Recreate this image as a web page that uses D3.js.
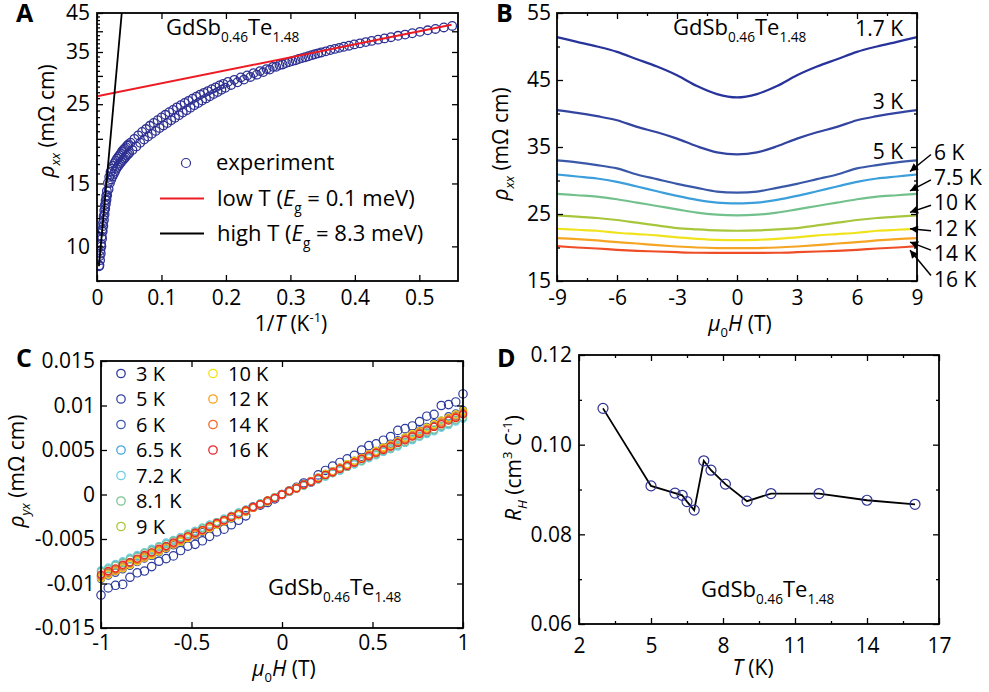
<!DOCTYPE html>
<html>
<head>
<meta charset="utf-8">
<script src="https://cdn.jsdelivr.net/npm/d3@7"></script>
<style>
body{margin:0;background:#fff;}
text{font-family:"Open Sans",sans-serif;fill:#000;}
.tick text{font-size:21px;font-family:"Open Sans",sans-serif;}
</style>
</head>
<body>
<script>
// ---------------- data ----------------
// panel A : rho_xx vs 1/T (log y), points read along the measured band
var invT = [0.0033,0.0038,0.0043,0.0048,0.0053,0.0058,0.0063,0.0068,0.0073,0.0078,0.0083,0.0088,0.0093,0.0098,0.0103,0.0108,0.0113,0.0118,0.0123,0.0128,0.0133,0.0138,0.0143,0.0148,0.0153,0.0158,
  0.017,0.018,0.019,0.020,0.021,0.022,0.023,0.024,0.025,0.026,0.027,0.028,0.029,0.030,0.031,0.032,0.033,0.034,0.035,0.036,0.037,0.038,0.039,0.040,0.041,0.042,0.043,0.044,0.045,0.046,0.047,0.048,0.049,0.050,
  0.052,0.055,0.058,0.061,0.064,0.067,0.070,0.073,0.076,0.079,0.082,0.085,0.088,0.091,0.094,0.097,0.100,0.103,0.106,0.109,0.112,0.115,0.118,0.121,0.124,0.127,0.130,0.133,0.136,0.139,0.142,0.145,0.148,0.151,0.154,0.157,0.160,0.163,0.166,0.169,0.172,0.175,0.178,0.181,0.184,0.187,0.190,0.193,0.196,0.199,
  0.203,0.208,0.213,0.218,0.223,0.228,0.233,0.238,0.243,0.248,0.253,0.258,0.263,0.268,0.273,0.278,0.283,0.288,0.293,0.298,0.303,0.308,0.313,0.318,0.323,0.328,0.333,0.338,0.343,0.348,
  0.355,0.362,0.369,0.376,0.383,0.391,0.399,0.408,0.417,0.426,0.436,0.446,0.456,0.467,0.478,0.489,0.501,0.513,0.525,0.538,0.551];
var rhoA = [8.8,8.85,9.4,9.15,9.75,9.55,10.15,10.0,10.65,10.5,11.15,11.0,11.65,11.4,12.15,11.85,12.6,12.3,13.05,12.75,13.45,13.15,13.85,13.5,14.3,13.9,
  15.05,14.45,15.65,15.05,16.15,15.4,16.5,15.7,16.8,15.95,17.1,16.2,17.35,16.5,17.6,16.7,17.8,16.9,18.0,17.1,18.2,17.25,18.45,17.45,18.65,17.6,18.8,17.75,18.95,17.95,19.15,18.1,19.3,18.25,
  19.5,18.6,20.0,19.05,20.45,19.5,20.9,19.9,21.3,20.3,21.75,20.65,22.15,21.05,22.55,21.45,22.95,21.8,23.35,22.15,23.75,22.55,24.1,22.9,24.5,23.3,24.85,23.7,25.2,24.05,25.55,24.45,25.9,24.85,26.25,25.2,26.6,25.6,26.9,25.95,27.2,26.3,27.55,26.7,27.85,27.05,28.2,27.45,28.5,27.8,
  28.85,28.3,29.25,28.8,29.7,29.3,30.1,29.8,30.55,30.25,30.95,30.75,31.35,31.25,31.8,31.8,32.2,32.3,32.6,32.8,33.0,33.2,33.45,33.65,33.85,34.05,34.3,34.5,34.7,34.9,
  35.15,35.45,35.7,35.95,36.2,36.45,36.75,37.0,37.3,37.6,37.9,38.2,38.5,38.85,39.15,39.5,39.85,40.25,40.6,41.0,41.4];
var lowFitX = [0, 0.55], lowFitY = [26.3, 41.7];
var highFitX = [0.003, 0.0384], highFitY = [8.8, 45];
var aXTicks = [0, 0.1, 0.2, 0.3, 0.4, 0.5];
var aYLabelTicks = [10, 15, 25, 35, 45];
var aYMajor = [10, 15, 20, 25, 30, 35, 40, 45];
var aYRight = [10, 15, 20, 25, 30, 35, 40];
var aYMinor = [8,9,11,12,13,14,16,17,18,19,21,22,23,24,26,27,28,29,31,32,33,34,36,37,38,39,41,42,43,44];

// panel B : rho_xx vs field
var fieldB = [-9,-8,-7,-6,-5,-4,-3,-2,-1,0,1,2,3,4,5,6,7,8,9];
var tempsB = ["1.7 K","3 K","5 K","6 K","7.5 K","10 K","12 K","14 K","16 K"];
var colorsB = ["#27329a","#3244a0","#3a58a8","#3c9fdb","#72c18d","#a8c63c","#f0e31c","#f6a423","#ee4d27"];
var rhoB17 = [51.4,50.7,50.0,49.2,48.1,47.0,45.7,44.1,42.9,42.4,42.9,44.1,45.7,47.0,48.1,49.2,50.0,50.7,51.4];
var rhoB3  = [40.5,40.1,39.6,39.0,38.0,37.2,36.25,35.1,34.2,33.9,34.2,35.1,36.25,37.2,38.0,39.0,39.6,40.1,40.5];
var rhoB5  = [33.0,32.7,32.3,31.8,30.9,30.2,29.5,28.9,28.35,28.2,28.35,28.9,29.5,30.2,30.9,31.8,32.3,32.7,33.0];
var rhoB6  = [30.9,30.6,30.3,29.8,29.1,28.4,27.7,27.1,26.7,26.6,26.7,27.1,27.7,28.4,29.1,29.8,30.3,30.6,30.9];
var rhoB75 = [28.0,27.8,27.6,27.2,26.7,26.2,25.7,25.2,24.9,24.8,24.9,25.2,25.7,26.2,26.7,27.2,27.6,27.8,28.0];
var rhoB10 = [24.8,24.6,24.4,24.1,23.7,23.3,22.9,22.7,22.55,22.5,22.55,22.7,22.9,23.3,23.7,24.1,24.4,24.6,24.8];
var rhoB12 = [22.8,22.65,22.5,22.2,22.0,21.8,21.5,21.3,21.15,21.1,21.15,21.3,21.5,21.8,22.0,22.2,22.5,22.65,22.8];
var rhoB14 = [21.4,21.25,21.05,20.8,20.6,20.35,20.15,20.0,19.92,19.9,19.92,20.0,20.15,20.35,20.6,20.8,21.05,21.25,21.4];
var rhoB16 = [20.2,20.0,19.85,19.65,19.5,19.4,19.3,19.22,19.2,19.2,19.2,19.22,19.3,19.4,19.5,19.65,19.85,20.0,20.2];
var seriesB = [rhoB17, rhoB3, rhoB5, rhoB6, rhoB75, rhoB10, rhoB12, rhoB14, rhoB16];
var bXTicks = [-9, -6, -3, 0, 3, 6, 9];
var bXMinor = [-7.5, -4.5, -1.5, 1.5, 4.5, 7.5];
var bYTicks = [15, 25, 35, 45, 55];
var bYMinor = [20, 30, 40, 50];

// panel C : rho_yx (units of 1e-3 mOhm cm) vs field
var fieldC = [-1,-0.96,-0.92,-0.88,-0.84,-0.8,-0.76,-0.72,-0.68,-0.64,-0.6,-0.56,-0.52,-0.48,-0.44,-0.4,-0.36,-0.32,-0.28,-0.24,-0.2,-0.16,-0.12,-0.08,-0.04,0,
  0.04,0.08,0.12,0.16,0.2,0.24,0.28,0.32,0.36,0.4,0.44,0.48,0.52,0.56,0.6,0.64,0.68,0.72,0.76,0.8,0.84,0.88,0.92,0.96,1];
var tempsC = ["3 K","5 K","6 K","6.5 K","7.2 K","8.1 K","9 K","10 K","12 K","14 K","16 K"];
var colorsC = ["#2b3a9c","#3447a3","#3d5dad","#47a6dc","#72cfe0","#7cc48f","#a9c63a","#f2e317","#f6a21f","#f1692c","#e8262b"];
var ryx3  = [-11.3,-10.5,-10.2,-10.1,-9.3,-8.8,-8.6,-8.1,-7.5,-7.2,-6.9,-6.3,-5.8,-5.6,-5.2,-4.7,-4.2,-3.9,-3.4,-2.9,-2.4,-1.4,-1.2,-0.9,-0.5,0.0,
  0.4,0.8,1.3,1.4,2.2,2.7,3.2,3.6,4.0,4.4,5.0,5.5,5.7,6.1,6.5,7.2,7.4,7.7,8.2,8.8,9.0,10.0,10.1,10.4,11.3];
var ryx5  = [-9.5,-9.1,-8.8,-8.4,-8.0,-7.6,-7.2,-6.9,-6.5,-6.1,-5.7,-5.3,-4.9,-4.6,-4.2,-3.8,-3.4,-3.0,-2.7,-2.3,-1.9,-1.5,-1.1,-0.8,-0.4,0.0,
  0.4,0.7,1.2,1.5,1.9,2.3,2.6,3.0,3.4,3.8,4.2,4.5,4.9,5.3,5.7,6.1,6.4,6.9,7.2,7.6,8.0,8.3,8.8,9.1,9.5];
var ryx6  = [-9.2,-8.8,-8.5,-8.1,-7.7,-7.4,-7.0,-6.6,-6.3,-5.9,-5.5,-5.2,-4.8,-4.4,-4.0,-3.7,-3.3,-2.9,-2.6,-2.2,-1.8,-1.5,-1.1,-0.7,-0.4,0.0,
  0.4,0.7,1.1,1.5,1.8,2.2,2.6,2.9,3.3,3.7,4.1,4.4,4.8,5.2,5.5,5.9,6.3,6.6,7.0,7.4,7.7,8.1,8.5,8.8,9.2];
var ryx65 = [-8.6,-8.3,-7.9,-7.6,-7.2,-6.9,-6.5,-6.2,-5.8,-5.5,-5.2,-4.8,-4.5,-4.1,-3.8,-3.4,-3.1,-2.8,-2.4,-2.1,-1.7,-1.4,-1.0,-0.7,-0.3,0.0,
  0.3,0.7,1.0,1.4,1.7,2.1,2.4,2.7,3.1,3.4,3.8,4.1,4.5,4.8,5.1,5.5,5.8,6.2,6.5,6.9,7.2,7.6,7.9,8.3,8.6];
var ryx72 = [-8.5,-8.2,-7.8,-7.5,-7.1,-6.8,-6.5,-6.1,-5.8,-5.4,-5.1,-4.8,-4.4,-4.1,-3.7,-3.4,-3.1,-2.7,-2.4,-2.0,-1.7,-1.4,-1.0,-0.7,-0.3,0.0,
  0.3,0.7,1.0,1.4,1.7,2.0,2.4,2.7,3.1,3.4,3.7,4.1,4.4,4.8,5.1,5.4,5.8,6.1,6.5,6.8,7.1,7.5,7.8,8.2,8.5];
var ryx81 = [-8.7,-8.4,-8.0,-7.7,-7.3,-7.0,-6.6,-6.3,-5.9,-5.6,-5.2,-4.9,-4.5,-4.2,-3.8,-3.5,-3.1,-2.8,-2.4,-2.1,-1.7,-1.4,-1.0,-0.7,-0.3,0.0,
  0.3,0.7,1.0,1.4,1.7,2.1,2.4,2.8,3.1,3.5,3.8,4.2,4.5,4.9,5.2,5.6,5.9,6.3,6.6,7.0,7.3,7.7,8.0,8.4,8.7];
var ryx9  = [-9.1,-8.7,-8.4,-8.0,-7.6,-7.3,-6.9,-6.6,-6.2,-5.8,-5.5,-5.1,-4.7,-4.4,-4.0,-3.6,-3.3,-2.9,-2.5,-2.2,-1.8,-1.5,-1.1,-0.7,-0.4,0.0,
  0.4,0.7,1.1,1.5,1.8,2.2,2.5,2.9,3.3,3.6,4.0,4.4,4.7,5.1,5.5,5.8,6.2,6.6,6.9,7.3,7.6,8.0,8.4,8.7,9.1];
var ryx10 = [-9.4,-9.0,-8.6,-8.3,-7.9,-7.5,-7.1,-6.8,-6.4,-6.0,-5.6,-5.3,-4.9,-4.5,-4.1,-3.8,-3.4,-3.0,-2.6,-2.3,-1.9,-1.5,-1.1,-0.8,-0.4,0.0,
  0.4,0.8,1.1,1.5,1.9,2.3,2.6,3.0,3.4,3.8,4.1,4.5,4.9,5.3,5.6,6.0,6.4,6.8,7.1,7.5,7.9,8.3,8.6,9.0,9.4];
var ryx12 = [-9.3,-8.9,-8.6,-8.2,-7.8,-7.4,-7.1,-6.7,-6.3,-6.0,-5.6,-5.2,-4.8,-4.5,-4.1,-3.7,-3.3,-3.0,-2.6,-2.2,-1.9,-1.5,-1.1,-0.7,-0.4,0.0,
  0.4,0.7,1.1,1.5,1.9,2.2,2.6,3.0,3.3,3.7,4.1,4.5,4.8,5.2,5.6,6.0,6.3,6.7,7.1,7.4,7.8,8.2,8.6,8.9,9.3];
var ryx14 = [-9.1,-8.7,-8.4,-8.0,-7.6,-7.3,-6.9,-6.5,-6.2,-5.8,-5.5,-5.1,-4.7,-4.4,-4.0,-3.6,-3.3,-2.9,-2.5,-2.2,-1.8,-1.5,-1.1,-0.7,-0.4,0.0,
  0.4,0.7,1.1,1.5,1.8,2.2,2.5,2.9,3.3,3.6,4.0,4.4,4.7,5.1,5.4,5.8,6.2,6.6,6.9,7.3,7.6,8.0,8.4,8.7,9.1];
var ryx16 = [-9.0,-8.6,-8.3,-7.9,-7.6,-7.2,-6.8,-6.5,-6.1,-5.8,-5.4,-5.0,-4.7,-4.3,-4.0,-3.6,-3.2,-2.9,-2.5,-2.2,-1.8,-1.4,-1.1,-0.7,-0.4,0.0,
  0.4,0.7,1.1,1.4,1.8,2.2,2.5,2.9,3.2,3.6,4.0,4.3,4.7,5.0,5.4,5.8,6.1,6.5,6.8,7.2,7.6,7.9,8.3,8.6,9.0];
var seriesC = [ryx3, ryx5, ryx6, ryx65, ryx72, ryx81, ryx9, ryx10, ryx12, ryx14, ryx16];
var cXTicks = [-1, -0.5, 0, 0.5, 1];
var cYTicks = [-15, -10, -5, 0, 5, 10, 15];
var cYLabels = ["-0.015", "-0.01", "-0.005", "0", "0.005", "0.01", "0.015"];

// panel D : Hall coefficient vs T
var tempD = [3, 5, 6, 6.3, 6.5, 6.8, 7.2, 7.5, 8.1, 9, 10, 12, 14, 16];
var rH = [0.1081, 0.0908, 0.0892, 0.0887, 0.0873, 0.0854, 0.0964, 0.0943, 0.0912, 0.0874, 0.0891, 0.0891, 0.0876, 0.0867];
var dXTicks = [2, 5, 8, 11, 14, 17];
var dXMinor = [3.5, 6.5, 9.5, 12.5, 15.5];
var dYTicks = [0.06, 0.08, 0.10, 0.12];
var dYMinor = [0.07, 0.09, 0.11];

// ---------------- drawing ----------------
var svg = d3.select("body").append("svg").attr("width", 989).attr("height", 692);

var defs = svg.append("defs");
defs.append("marker").attr("id", "arr").attr("viewBox", "0 0 10 10")
    .attr("refX", 10).attr("refY", 5).attr("markerWidth", 10).attr("markerHeight", 8)
    .attr("markerUnits", "userSpaceOnUse").attr("orient", "auto")
    .append("path").attr("d", "M0,0L10,5L0,10z").attr("fill", "#000");

// text with italic / sub / sup parts
function rich(t, parts, size) {
    var shift = 0;
    parts.forEach(function (p) {
        var k = p[1] || "";
        var s = t.append("tspan").text(p[0]);
        var target = 0;
        if (k.indexOf("sub") >= 0) target = size * 0.3;
        if (k.indexOf("sup") >= 0) target = -size * 0.42;
        s.attr("dy", target - shift);
        shift = target;
        if (target !== 0) s.style("font-size", (size * 0.62) + "px");
        if (k.charAt(0) === "i") s.style("font-style", "italic");
    });
    return t;
}

function formula(x, y) {
    var t = svg.append("text").attr("x", x).attr("y", y).style("font-size", "22px");
    rich(t, [["GdSb"], ["0.46", "sub"], ["Te"], ["1.48", "sub"]], 22);
}

function letter(s, x, y) {
    svg.append("text").attr("x", x).attr("y", y).text(s)
        .style("font-size", "25px").style("font-weight", "bold");
}

function noDomain(g) { g.select(".domain").remove(); }
var plain = function (d) { return String(d); };   // keeps a plain hyphen for negatives

// frame + inward ticks on 4 sides
function frame(p, x, y, o) {
    var g = svg.append("g");
    var fx = o.xFmt || plain, fy = o.yFmt || plain;
    g.append("g").attr("transform", "translate(0," + p.b + ")")
        .call(d3.axisBottom(x).tickValues(o.xMajor).tickSizeInner(-6).tickSizeOuter(0).tickPadding(o.xPad).tickFormat(fx)).call(noDomain);
    g.append("g").attr("transform", "translate(0," + p.t + ")")
        .call(d3.axisTop(x).tickValues(o.xMajor).tickSizeInner(-6).tickSizeOuter(0).tickFormat("")).call(noDomain);
    g.append("g").attr("transform", "translate(" + p.l + ",0)")
        .call(d3.axisLeft(y).tickValues(o.yMajor).tickSizeInner(-6).tickSizeOuter(0).tickPadding(o.yPad).tickFormat(fy)).call(noDomain);
    g.append("g").attr("transform", "translate(" + p.r + ",0)")
        .call(d3.axisRight(y).tickValues(o.yRight || o.yMajor).tickSizeInner(-6).tickSizeOuter(0).tickFormat("")).call(noDomain);
    if (o.xMinor) {
        g.append("g").attr("transform", "translate(0," + p.b + ")")
            .call(d3.axisBottom(x).tickValues(o.xMinor).tickSizeInner(-3).tickSizeOuter(0).tickFormat("")).call(noDomain);
        g.append("g").attr("transform", "translate(0," + p.t + ")")
            .call(d3.axisTop(x).tickValues(o.xMinor).tickSizeInner(-3).tickSizeOuter(0).tickFormat("")).call(noDomain);
    }
    if (o.yMinor) {
        g.append("g").attr("transform", "translate(" + p.l + ",0)")
            .call(d3.axisLeft(y).tickValues(o.yMinor).tickSizeInner(-3).tickSizeOuter(0).tickFormat("")).call(noDomain);
        if (!o.noRightMinor)
            g.append("g").attr("transform", "translate(" + p.r + ",0)")
                .call(d3.axisRight(y).tickValues(o.yMinor).tickSizeInner(-3).tickSizeOuter(0).tickFormat("")).call(noDomain);
    }
    g.selectAll(".tick line").attr("stroke-width", 1.3);
    g.append("rect").attr("x", p.l).attr("y", p.t).attr("width", p.r - p.l).attr("height", p.b - p.t)
        .attr("fill", "none").attr("stroke", "#000").attr("stroke-width", 1.8);
    return g;
}

// ===== Panel A =====
var pA = {l: 97, r: 458, t: 13, b: 281};
var xA = d3.scaleLinear().domain([0, 0.56]).range([pA.l, pA.r]);
var yA = d3.scaleLog().domain([8, 45]).range([pA.b, pA.t]);

var clipA = defs.append("clipPath").attr("id", "clipA");
clipA.append("rect").attr("x", pA.l).attr("y", pA.t).attr("width", pA.r - pA.l).attr("height", pA.b - pA.t);

var gA = svg.append("g").attr("clip-path", "url(#clipA)");
gA.selectAll("circle").data(invT).enter().append("circle")
    .attr("cx", function (d) { return xA(d); })
    .attr("cy", function (d, i) { return yA(rhoA[i]); })
    .attr("r", 4.3).attr("fill", "none").attr("stroke", "#2e3192").attr("stroke-width", 1.3);
var lineA = d3.line().x(function (d) { return xA(d[0]); }).y(function (d) { return yA(d[1]); });
gA.append("path").datum(d3.zip(lowFitX, lowFitY)).attr("d", lineA)
    .attr("fill", "none").attr("stroke", "#ed1c24").attr("stroke-width", 2);
gA.append("path").datum(d3.zip(highFitX, highFitY)).attr("d", lineA)
    .attr("fill", "none").attr("stroke", "#000").attr("stroke-width", 1.8);

frame(pA, xA, yA, {
    xMajor: aXTicks, xPad: 9,
    yMajor: aYMajor, yPad: 7, yFmt: function (d) { return aYLabelTicks.indexOf(d) >= 0 ? d : ""; },
    yRight: aYRight, yMinor: aYMinor, noRightMinor: true
});

// legend A
svg.append("circle").attr("cx", 186).attr("cy", 163).attr("r", 4.5)
    .attr("fill", "none").attr("stroke", "#2e3192").attr("stroke-width", 1.2);
svg.append("text").attr("x", 216).attr("y", 170).style("font-size", "22px").text("experiment");
svg.append("line").attr("x1", 160).attr("x2", 204).attr("y1", 198.5).attr("y2", 198.5)
    .attr("stroke", "#ed1c24").attr("stroke-width", 2);
rich(svg.append("text").attr("x", 217).attr("y", 206).style("font-size", "22px"),
    [["low T ("], ["E", "i"], ["g", "sub"], [" = 0.1 meV)"]], 22);
svg.append("line").attr("x1", 160).attr("x2", 204).attr("y1", 233.5).attr("y2", 233.5)
    .attr("stroke", "#000").attr("stroke-width", 2);
rich(svg.append("text").attr("x", 217).attr("y", 241).style("font-size", "22px"),
    [["high T ("], ["E", "i"], ["g", "sub"], [" = 8.3 meV)"]], 22);

formula(166, 35);
letter("A", 16, 22);
rich(svg.append("text").attr("transform", "translate(54,121) rotate(-90)").attr("text-anchor", "middle").style("font-size", "21px"),
    [["ρ", "i"], ["xx", "isub"], [" (mΩ cm)"]], 21);
rich(svg.append("text").attr("x", 291).attr("y", 331).attr("text-anchor", "middle").style("font-size", "21px"),
    [["1/"], ["T", "i"], [" (K"], ["-1", "sup"], [")"]], 21);

// ===== Panel B =====
var pB = {l: 557, r: 917, t: 13, b: 281};
var xB = d3.scaleLinear().domain([-9, 9]).range([pB.l, pB.r]);
var yB = d3.scaleLinear().domain([15, 55]).range([pB.b, pB.t]);
var lineB = d3.line().x(function (d, i) { return xB(fieldB[i]); }).y(function (d) { return yB(d); })
    .curve(d3.curveCatmullRom.alpha(0.5));
svg.append("g").selectAll("path").data(seriesB).enter().append("path")
    .attr("d", lineB).attr("fill", "none")
    .attr("stroke", function (d, i) { return colorsB[i]; }).attr("stroke-width", 2.2);

frame(pB, xB, yB, {
    xMajor: bXTicks, xPad: 9, xMinor: bXMinor,
    yMajor: bYTicks, yPad: 6, yMinor: bYMinor
});

formula(673, 35);
letter("B", 496, 22);
// labels inside the frame
[0, 1, 2].forEach(function (i) {
    var last = seriesB[i][seriesB[i].length - 1];
    svg.append("text").attr("x", xB(9) - 14).attr("y", yB(last) - 1)
        .attr("text-anchor", "end").style("font-size", "21px").text(tempsB[i]);
});
// labels outside with arrows
for (var i = 3; i < seriesB.length; i++) {
    var k = i - 3;
    var ly = 159.5 + k * 25.4;
    var last = seriesB[i][seriesB[i].length - 1];
    svg.append("text").attr("x", 934).attr("y", ly).style("font-size", "21px").text(tempsB[i]);
    var hy = yB(last) + (k < 3 ? -3 : (k === 3 ? 0 : 4));
    var ty = ly - (k < 4 ? 5 : 11);
    svg.append("line").attr("x1", 931).attr("y1", ty).attr("x2", xB(8.65)).attr("y2", hy)
        .attr("stroke", "#000").attr("stroke-width", 1.5).attr("marker-end", "url(#arr)");
}
rich(svg.append("text").attr("transform", "translate(508,144) rotate(-90)").attr("text-anchor", "middle").style("font-size", "21px"),
    [["ρ", "i"], ["xx", "isub"], [" (mΩ cm)"]], 21);
rich(svg.append("text").attr("x", 740).attr("y", 331).attr("text-anchor", "middle").style("font-size", "21px"),
    [["μ", "i"], ["0", "sub"], ["H", "i"], [" (T)"]], 21);

// ===== Panel C =====
var pC = {l: 101, r: 463, t: 361, b: 628};
var xC = d3.scaleLinear().domain([-1, 1]).range([pC.l, pC.r]);
var yC = d3.scaleLinear().domain([-15, 15]).range([pC.b, pC.t]);
seriesC.forEach(function (s, j) {
    svg.append("g").selectAll("circle").data(s).enter().append("circle")
        .attr("cx", function (d, i) { return xC(fieldC[i]); })
        .attr("cy", function (d) { return yC(d); })
        .attr("r", j === 0 ? 4.2 : 3.6).attr("fill", "none")
        .attr("stroke", colorsC[j]).attr("stroke-width", 1.2);
});
frame(pC, xC, yC, {
    xMajor: cXTicks, xPad: 7,
    yMajor: cYTicks, yPad: 6, yFmt: function (d, i) { return cYLabels[i]; }
});
tempsC.forEach(function (t, i) {
    var col = i < 7 ? 0 : 1, row = i < 7 ? i : i - 7;
    var cx = col === 0 ? 121 : 213, cy = 373.5 + row * 25.5;
    svg.append("circle").attr("cx", cx).attr("cy", cy).attr("r", 4.2)
        .attr("fill", "none").attr("stroke", colorsC[i]).attr("stroke-width", 1.3);
    svg.append("text").attr("x", cx + 15).attr("y", cy + 7).style("font-size", "20px").text(t);
});
formula(268, 595);
letter("C", 16, 367);
rich(svg.append("text").attr("transform", "translate(24,471) rotate(-90)").attr("text-anchor", "middle").style("font-size", "21px"),
    [["ρ", "i"], ["yx", "isub"], [" (mΩ cm)"]], 21);
rich(svg.append("text").attr("x", 284).attr("y", 676).attr("text-anchor", "middle").style("font-size", "21px"),
    [["μ", "i"], ["0", "sub"], ["H", "i"], [" (T)"]], 21);

// ===== Panel D =====
var pD = {l: 579, r: 939, t: 355, b: 624};
var xD = d3.scaleLinear().domain([2, 17]).range([pD.l, pD.r]);
var yD = d3.scaleLinear().domain([0.06, 0.12]).range([pD.b, pD.t]);
svg.append("path").datum(tempD)
    .attr("d", d3.line().x(function (d) { return xD(d); }).y(function (d, i) { return yD(rH[i]); }))
    .attr("fill", "none").attr("stroke", "#000").attr("stroke-width", 1.8);
svg.append("g").selectAll("circle").data(tempD).enter().append("circle")
    .attr("cx", function (d) { return xD(d); }).attr("cy", function (d, i) { return yD(rH[i]); })
    .attr("r", 5).attr("fill", "none").attr("stroke", "#2e3192").attr("stroke-width", 1.2);
frame(pD, xD, yD, {
    xMajor: dXTicks, xPad: 14, xMinor: dXMinor,
    yMajor: dYTicks, yPad: 7, yFmt: d3.format(".2f"), yMinor: dYMinor
});
formula(701, 597);
letter("D", 497, 367);
rich(svg.append("text").attr("transform", "translate(521,468) rotate(-90)").attr("text-anchor", "middle").style("font-size", "21px"),
    [["R", "i"], ["H", "isub"], [" (cm"], ["3", "sup"], ["  C"], ["-1", "sup"], [")"]], 21);
rich(svg.append("text").attr("x", 753).attr("y", 675).attr("text-anchor", "middle").style("font-size", "21px"),
    [["T", "i"], [" (K)"]], 21);
</script>
</body>
</html>
